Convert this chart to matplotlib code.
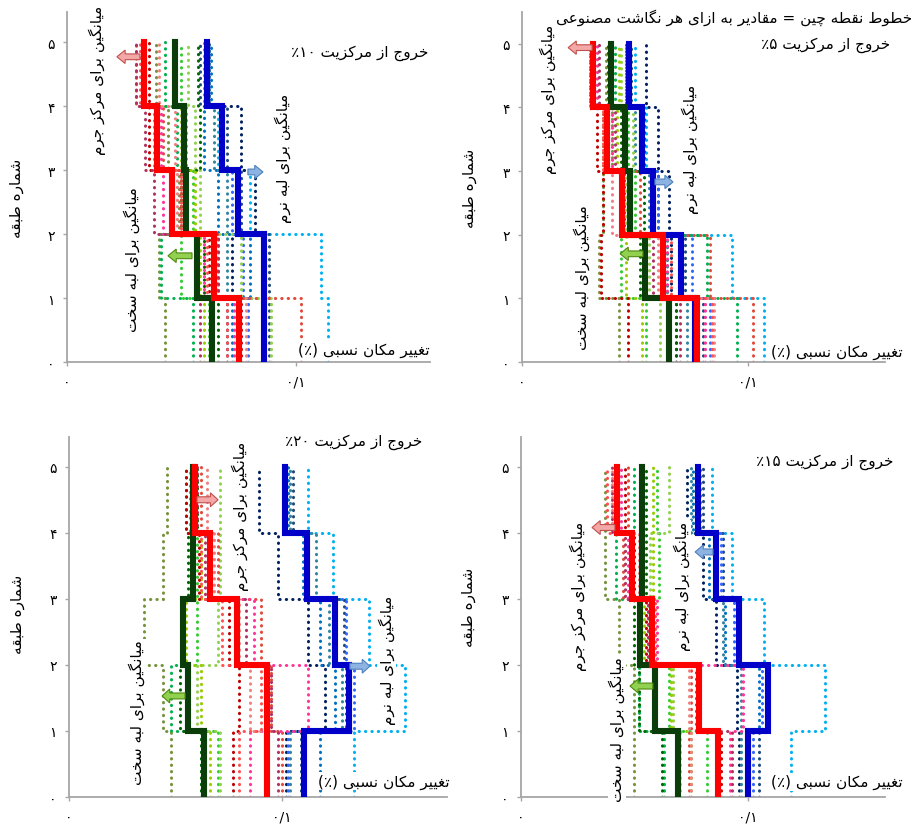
import matplotlib
matplotlib.use("Agg")
import matplotlib.pyplot as plt
import matplotlib.patches as mpatches
import numpy as np

plt.rcParams['font.family'] = ['DejaVu Sans']

# inter-story drift (%) for stories 1..5, one list per record, plus mean profiles
CM_MEAN_5 = [0.0772, 0.0625, 0.0441, 0.0375, 0.0316]
STIFF_MEAN_5 = [0.0651, 0.0544, 0.0478, 0.0456, 0.0393]
SOFT_MEAN_5 = [0.0765, 0.0703, 0.0581, 0.0529, 0.0475]
CM_REC_5 = [[0.102, 0.083, 0.052, 0.036, 0.030], [0.047, 0.035, 0.036, 0.033, 0.031],
            [0.081, 0.064, 0.048, 0.040, 0.033], [0.085, 0.060, 0.040, 0.038, 0.032],
            [0.070, 0.058, 0.045, 0.041, 0.034], [0.084, 0.066, 0.044, 0.036, 0.030]]
STIFF_REC_5 = [[0.043, 0.034, 0.036, 0.040, 0.037], [0.095, 0.082, 0.048, 0.046, 0.041],
               [0.055, 0.044, 0.050, 0.047, 0.040], [0.061, 0.056, 0.046, 0.049, 0.044],
               [0.068, 0.052, 0.054, 0.044, 0.038], [0.053, 0.046, 0.044, 0.042, 0.043]]
SOFT_REC_5 = [[0.107, 0.093, 0.058, 0.055, 0.050], [0.068, 0.066, 0.065, 0.060, 0.055],
              [0.076, 0.070, 0.057, 0.052, 0.046], [0.080, 0.072, 0.060, 0.054, 0.048],
              [0.073, 0.064, 0.056, 0.050, 0.047], [0.083, 0.075, 0.060, 0.053, 0.046]]

CM_MEAN_10 = [0.0752, 0.0642, 0.0460, 0.0394, 0.0336]
STIFF_MEAN_10 = [0.0635, 0.0569, 0.0518, 0.0511, 0.0470]
SOFT_MEAN_10 = [0.0861, 0.0861, 0.0745, 0.0679, 0.0613]
CM_REC_10 = [[0.102, 0.066, 0.050, 0.042, 0.030], [0.076, 0.062, 0.045, 0.036, 0.036],
             [0.073, 0.060, 0.042, 0.041, 0.034], [0.078, 0.065, 0.048, 0.047, 0.040],
             [0.058, 0.066, 0.038, 0.034, 0.030], [0.070, 0.061, 0.050, 0.038, 0.032]]
STIFF_REC_10 = [[0.043, 0.040, 0.049, 0.044, 0.039], [0.055, 0.041, 0.052, 0.048, 0.043],
                [0.062, 0.050, 0.055, 0.052, 0.050], [0.089, 0.076, 0.058, 0.056, 0.053],
                [0.066, 0.060, 0.050, 0.058, 0.057], [0.060, 0.058, 0.056, 0.050, 0.047]]
SOFT_REC_10 = [[0.114, 0.111, 0.080, 0.066, 0.060], [0.070, 0.072, 0.082, 0.076, 0.062],
               [0.072, 0.080, 0.066, 0.060, 0.063], [0.088, 0.088, 0.076, 0.070, 0.058],
               [0.086, 0.070, 0.070, 0.064, 0.062], [0.079, 0.077, 0.072, 0.068, 0.061]]

CM_MEAN_15 = [0.0868, 0.0784, 0.0575, 0.0487, 0.0421]
STIFF_MEAN_15 = [0.0692, 0.0589, 0.0526, 0.0535, 0.0535]
SOFT_MEAN_15 = [0.1000, 0.1088, 0.0960, 0.0861, 0.0780]
CM_REC_15 = [[0.074, 0.075, 0.058, 0.045, 0.047], [0.088, 0.079, 0.055, 0.050, 0.046],
             [0.092, 0.098, 0.060, 0.047, 0.044], [0.075, 0.074, 0.057, 0.052, 0.040],
             [0.093, 0.077, 0.056, 0.046, 0.040], [0.087, 0.078, 0.059, 0.049, 0.038]]
STIFF_REC_15 = [[0.050, 0.050, 0.043, 0.037, 0.037], [0.063, 0.052, 0.053, 0.042, 0.050],
                [0.082, 0.065, 0.056, 0.061, 0.060], [0.070, 0.067, 0.057, 0.057, 0.065],
                [0.062, 0.052, 0.050, 0.055, 0.055], [0.075, 0.066, 0.054, 0.058, 0.058]]
SOFT_REC_15 = [[0.119, 0.134, 0.107, 0.093, 0.084], [0.096, 0.095, 0.086, 0.080, 0.073],
               [0.099, 0.105, 0.090, 0.083, 0.076], [0.105, 0.108, 0.095, 0.089, 0.080],
               [0.097, 0.097, 0.089, 0.086, 0.075], [0.102, 0.106, 0.094, 0.088, 0.079]]

CM_MEAN_20 = [0.0929, 0.0929, 0.0788, 0.0662, 0.0592]
STIFF_MEAN_20 = [0.0634, 0.0560, 0.0537, 0.0584, 0.0584]
SOFT_MEAN_20 = [0.1102, 0.1314, 0.1251, 0.1118, 0.1016]
CM_REC_20 = [[0.100, 0.095, 0.090, 0.070, 0.062], [0.077, 0.080, 0.075, 0.061, 0.055],
             [0.085, 0.112, 0.087, 0.066, 0.058], [0.092, 0.085, 0.080, 0.068, 0.065],
             [0.098, 0.095, 0.083, 0.064, 0.060], [0.080, 0.090, 0.072, 0.062, 0.057]]
STIFF_REC_20 = [[0.048, 0.044, 0.035, 0.044, 0.046], [0.062, 0.048, 0.053, 0.058, 0.055],
                [0.070, 0.055, 0.060, 0.060, 0.058], [0.071, 0.060, 0.070, 0.071, 0.071],
                [0.062, 0.052, 0.053, 0.056, 0.060], [0.066, 0.062, 0.055, 0.062, 0.058]]
SOFT_REC_20 = [[0.134, 0.158, 0.141, 0.124, 0.112], [0.102, 0.120, 0.112, 0.098, 0.089],
               [0.118, 0.125, 0.118, 0.110, 0.103], [0.109, 0.130, 0.129, 0.112, 0.105],
               [0.104, 0.128, 0.122, 0.116, 0.104], [0.103, 0.134, 0.130, 0.111, 0.101]]

CM_COLORS = ['#e04a3a', '#c00000', '#ff3399', '#f08080', '#b03060', '#ff5050']
STIFF_COLORS = ['#76923c', '#00b050', '#33cc33', '#92d050', '#006600', '#99cc00']
SOFT_COLORS = ['#00b0f0', '#002060', '#0070c0', '#1f497d', '#31859c', '#3366ff']

STORY_LABELS = ['۰', '۱', '۲', '۳', '۴', '۵']
DRIFT_TICKS = [0, 0.1]
DRIFT_LABELS = ['۰', '۰/۱']

# presentation forms: isolated, final, initial, medial (None = joins on the right only)
FORMS = {
    'ا': ('\uFE8D', '\uFE8E', None, None),
    'ب': ('\uFE8F', '\uFE90', '\uFE91', '\uFE92'),
    'ت': ('\uFE95', '\uFE96', '\uFE97', '\uFE98'),
    'ج': ('\uFE9D', '\uFE9E', '\uFE9F', '\uFEA0'),
    'چ': ('\uFB7A', '\uFB7B', '\uFB7C', '\uFB7D'),
    'خ': ('\uFEA5', '\uFEA6', '\uFEA7', '\uFEA8'),
    'د': ('\uFEA9', '\uFEAA', None, None),
    'ر': ('\uFEAD', '\uFEAE', None, None),
    'ز': ('\uFEAF', '\uFEB0', None, None),
    'س': ('\uFEB1', '\uFEB2', '\uFEB3', '\uFEB4'),
    'ش': ('\uFEB5', '\uFEB6', '\uFEB7', '\uFEB8'),
    'ص': ('\uFEB9', '\uFEBA', '\uFEBB', '\uFEBC'),
    'ط': ('\uFEC1', '\uFEC2', '\uFEC3', '\uFEC4'),
    'ع': ('\uFEC9', '\uFECA', '\uFECB', '\uFECC'),
    'غ': ('\uFECD', '\uFECE', '\uFECF', '\uFED0'),
    'ق': ('\uFED5', '\uFED6', '\uFED7', '\uFED8'),
    'ک': ('\uFB8E', '\uFB8F', '\uFB90', '\uFB91'),
    'گ': ('\uFB92', '\uFB93', '\uFB94', '\uFB95'),
    'ل': ('\uFEDD', '\uFEDE', '\uFEDF', '\uFEE0'),
    'م': ('\uFEE1', '\uFEE2', '\uFEE3', '\uFEE4'),
    'ن': ('\uFEE5', '\uFEE6', '\uFEE7', '\uFEE8'),
    'و': ('\uFEED', '\uFEEE', None, None),
    'ه': ('\uFEE9', '\uFEEA', '\uFEEB', '\uFEEC'),
    'ی': ('\uFBFC', '\uFBFD', '\uFBFE', '\uFBFF'),
}
DIGITS = set('۰۱۲۳۴۵۶۷۸۹')
MIRROR = {'(': ')', ')': '('}


def fa(text):
    """Join Persian letters and lay the string out right-to-left."""
    shaped = []
    for i, ch in enumerate(text):
        f = FORMS.get(ch)
        if f is None:
            shaped.append(ch)
            continue
        prev = FORMS.get(text[i - 1]) if i > 0 else None
        nxt = FORMS.get(text[i + 1]) if i + 1 < len(text) else None
        jp = prev is not None and prev[2] is not None
        jn = f[2] is not None and nxt is not None
        shaped.append(f[3] if jp and jn else f[1] if jp else f[2] if jn else f[0])
    runs = []
    for ch in shaped:
        num = ch in DIGITS
        if runs and runs[-1][0] == num:
            runs[-1][1].append(ch)
        else:
            runs.append((num, [ch]))
    out = []
    for num, chars in reversed(runs):
        if num:
            out.append(''.join(chars))
        else:
            out.append(''.join(MIRROR.get(c, c) for c in reversed(chars)))
    return ''.join(out)


def step_xy(vals):
    x = np.repeat(np.asarray(vals), 2)
    y = np.repeat(np.arange(len(vals) + 1), 2)[1:-1]
    return x, y


def arrow(ax, x0, x1, y, fc, ec):
    ax.add_patch(mpatches.FancyArrow(x0, y, x1 - x0, 0, width=0.09, head_width=0.21,
                                     head_length=0.0036, length_includes_head=True,
                                     fc=fc, ec=ec, lw=0.8, zorder=6))


PANELS = [
    dict(rect=[0.0731, 0.5616, 0.3963, 0.4227], xmax=0.1585, ymax=5.47, ecc='۱۰',
         data=(CM_MEAN_10, STIFF_MEAN_10, SOFT_MEAN_10, CM_REC_10, STIFF_REC_10, SOFT_REC_10),
         title=(0.158, 4.84), cm=(0.0131, 4.42), soft=(0.0943, 3.20), stiff=(0.0284, 1.61),
         a_cm=(0.0319, 0.0218, 4.77), a_soft=(0.0790, 0.0856, 2.97), a_stiff=(0.0546, 0.0441, 1.66),
         xl=(0.1585, 0.20), yl=(-0.118, 0.47)),
    dict(rect=[0.5699, 0.5616, 0.3963, 0.4227], xmax=0.1606, ymax=5.50, ecc='۵',
         data=(CM_MEAN_5, STIFF_MEAN_5, SOFT_MEAN_5, CM_REC_5, STIFF_REC_5, SOFT_REC_5),
         title=(0.1628, 5.0), cm=(0.0115, 4.14), soft=(0.0743, 3.35), stiff=(0.0265, 1.35),
         a_cm=(0.0310, 0.0204, 4.94), a_soft=(0.0588, 0.0668, 2.83), a_stiff=(0.0535, 0.0434, 1.70),
         xl=(0.1686, 0.17), yl=(-0.123, 0.50), note=(0.1726, 5.42)),
    dict(rect=[0.0753, 0.0362, 0.4127, 0.4348], xmax=0.1775, ymax=5.45, ecc='۲۰',
         data=(CM_MEAN_20, STIFF_MEAN_20, SOFT_MEAN_20, CM_REC_20, STIFF_REC_20, SOFT_REC_20),
         title=(0.1657, 5.38), cm=(0.0803, 4.26), soft=(0.1493, 2.09), stiff=(0.0319, 1.29),
         a_cm=(0.0601, 0.0700, 4.50), a_soft=(0.1319, 0.1413, 1.98), a_stiff=(0.0545, 0.0437, 1.53),
         xl=(0.1789, 0.24), yl=(-0.116, 0.51)),
    dict(rect=[0.5688, 0.0362, 0.3974, 0.4348], xmax=0.1604, ymax=5.45, ecc='۱۵',
         data=(CM_MEAN_15, STIFF_MEAN_15, SOFT_MEAN_15, CM_REC_15, STIFF_REC_15, SOFT_REC_15),
         title=(0.1639, 5.09), cm=(0.0251, 3.05), soft=(0.0709, 3.20), stiff=(0.0423, 1.03),
         a_cm=(0.0414, 0.0313, 4.08), a_soft=(0.0846, 0.0767, 3.71), a_stiff=(0.0581, 0.0480, 1.68),
         xl=(0.1683, 0.23), yl=(-0.123, 0.53)),
]

DOT = dict(ls=(0, (0.1, 2.0)), lw=2.2, dash_capstyle='round', zorder=2)
BOX = dict(fc='white', ec='none', pad=0.5)
AXIS_GRAY = '#a6a6a6'

fig = plt.figure(figsize=(9.16, 8.28), dpi=100)

for p in PANELS:
    ax = fig.add_axes(p['rect'])
    cm_mean, stiff_mean, soft_mean, cm_rec, stiff_rec, soft_rec = p['data']

    for recs, cols in ((soft_rec, SOFT_COLORS), (stiff_rec, STIFF_COLORS), (cm_rec, CM_COLORS)):
        for vals, c in zip(recs, cols):
            x, y = step_xy(vals)
            ax.plot(x, y, color=c, **DOT)

    for vals, c in ((soft_mean, '#0000c8'), (stiff_mean, '#0b3d0b'), (cm_mean, '#ff0000')):
        x, y = step_xy(vals)
        ax.plot(x, y, color=c, lw=4.4, solid_joinstyle='miter', zorder=4)

    ax.set_xlim(0, p['xmax'])
    ax.set_ylim(0, p['ymax'])
    for s in ('top', 'right'):
        ax.spines[s].set_visible(False)
    for s in ('left', 'bottom'):
        ax.spines[s].set_color(AXIS_GRAY)
        ax.spines[s].set_linewidth(1.3)
    ax.set_xticks(DRIFT_TICKS)
    ax.set_xticklabels(DRIFT_LABELS, fontsize=10)
    ax.set_yticks(range(len(STORY_LABELS)))
    ax.set_yticklabels(STORY_LABELS, fontsize=10)
    ax.tick_params(axis='both', length=3, color=AXIS_GRAY, width=1)
    ax.tick_params(axis='x', pad=6)
    ax.tick_params(axis='y', pad=6)

    ax.set_ylabel(fa('شماره طبقه'), fontsize=11)
    ax.yaxis.set_label_coords(*p['yl'])

    tx, ty = p['title']
    ax.text(tx, ty, fa('خروج از مرکزیت ' + p['ecc'] + '٪'), ha='right', va='center',
            fontsize=11, zorder=7, clip_on=False)
    if 'note' in p:
        nx, ny = p['note']
        ax.text(nx, ny, fa('خطوط نقطه چین = مقادیر به ازای هر نگاشت مصنوعی'), ha='right',
                va='center', fontsize=11, zorder=7, clip_on=False)

    for key, label in (('cm', 'میانگین برای مرکز جرم'), ('soft', 'میانگین برای لبه نرم'),
                       ('stiff', 'میانگین برای لبه سخت')):
        lx, ly = p[key]
        ax.text(lx, ly, fa(label), rotation=90, ha='center', va='center', fontsize=11,
                zorder=7, bbox=BOX, clip_on=False)

    arrow(ax, *p['a_cm'], fc='#f4a7a7', ec='#c0504d')
    arrow(ax, *p['a_soft'], fc='#8db3e2', ec='#4f81bd')
    arrow(ax, *p['a_stiff'], fc='#92d050', ec='#4f8a10')

    xx, xy = p['xl']
    ax.text(xx, xy, fa('تغییر مکان نسبی (٪)'), ha='right', va='center', fontsize=11,
            zorder=7, bbox=dict(fc='white', ec='none', pad=1.0), clip_on=False)

fig.savefig('out.png', dpi=100, facecolor='white')
